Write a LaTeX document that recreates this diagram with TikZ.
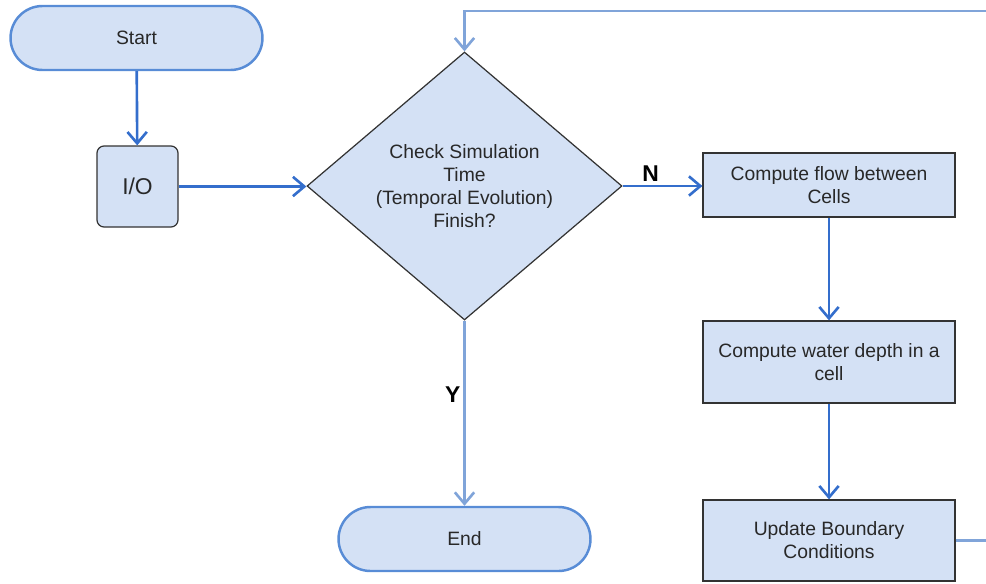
\documentclass[tikz,border=0pt]{standalone}
\usepackage{fontspec}
\setmainfont{Liberation Sans}
\usetikzlibrary{shapes.geometric,shapes.misc,arrows.meta}
\definecolor{boxfill}{RGB}{212,225,245}
\definecolor{termline}{RGB}{88,140,214}
\definecolor{flowline}{RGB}{52,110,204}
\definecolor{loopline}{RGB}{128,164,217}
\definecolor{textgray}{RGB}{40,40,40}
\begin{document}
\begin{tikzpicture}[
        every node/.style={
            fill=boxfill,draw=black!80,line width=0.7pt,
            text=textgray,font=\fontsize{11}{13}\selectfont,
            align=center,inner sep=2pt
        },
        terminal/.style={
            rounded rectangle,draw=termline,line width=1.4pt,
            minimum width=5.18cm,minimum height=1.28cm
        },
        process/.style={
            rectangle,minimum width=5.04cm
        },
        decision/.style={
            diamond,minimum width=6.3cm,minimum height=5.36cm,inner sep=0pt
        },
        flow/.style={->,draw=flowline,line width=1.5pt},
        loop/.style={->,draw=loopline,line width=1.5pt},
        answer/.style={fill=none,draw=none,text=black,font=\fontsize{13}{15}\selectfont\bfseries},
        >={Straight Barb[length=6.5pt,width=11pt]}
    ]
\useasboundingbox (0,0) rectangle (19.72,-11.66);
% Nodes
    \node[terminal] (start) at (2.73,-0.76) {Start};
    \node[rectangle,rounded corners=4pt,minimum size=1.62cm,
        font=\fontsize{13}{15}\selectfont] (io) at (2.75,-3.73) {I/O};
    \node[decision] (check) at (9.29,-3.72)
        {Check Simulation\\Time\\(Temporal Evolution)\\Finish?};
    \node[process,minimum height=1.28cm] (flowcells) at (16.58,-3.70)
        {Compute flow between\\Cells};
    \node[process,minimum height=1.64cm] (depth) at (16.58,-7.24)
        {Compute water depth in a\\cell};
    \node[process,minimum height=1.62cm] (boundary) at (16.58,-10.81)
        {Update Boundary\\Conditions};
    \node[terminal] (end) at (9.29,-10.78) {End};
% Arrows
    \draw[flow] (start) -- (io);
    \draw[flow] (io) -- (io -| check.west);
    \draw[flow] (check.east) -- node[answer,above,pos=0.35] {N}
        (check.east -| flowcells.west);
    \draw[flow] (flowcells) -- (depth);
    \draw[flow] (depth) -- (boundary);
    \draw[loop] (check.south) -- node[answer,left,pos=0.4] {Y} (end.north);
% Loop back
    \coordinate (backlow) at (20.5,-10.81);
    \coordinate (backtop) at (20.5,-0.22);
    \draw[loop] (boundary.east) -- (backlow) -- (backtop)
        -- (backtop -| check.north) -- (check.north);
\end{tikzpicture}
\end{document}
